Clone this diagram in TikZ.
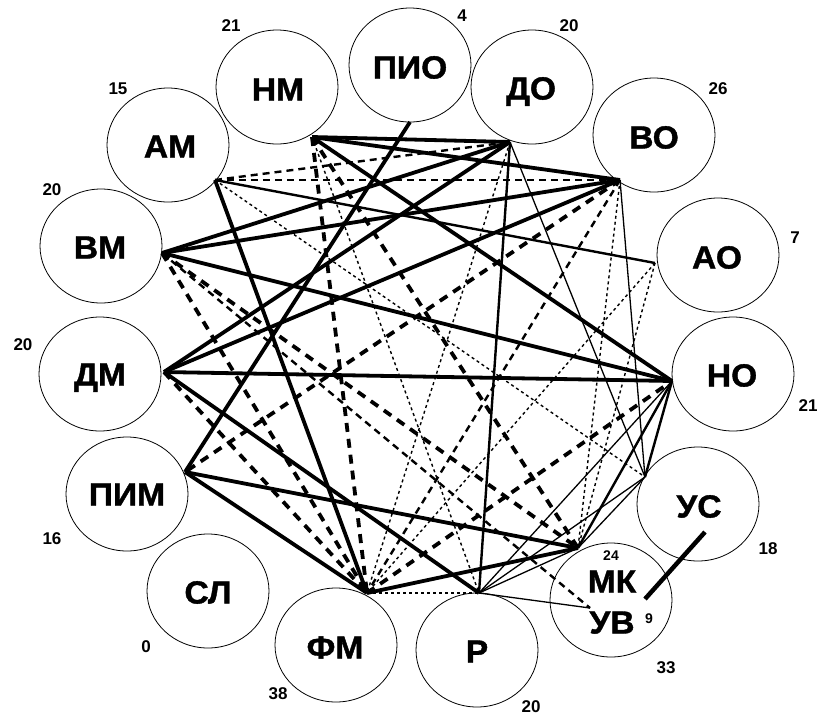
\documentclass[tikz,border=0pt]{standalone}
\usepackage{fontspec}
\setmainfont{Liberation Sans}
\newfontfamily\heavyfont{Liberation Sans}[BoldFeatures={FakeBold=1.2}]
\usepackage{graphicx}
\usetikzlibrary{shapes.geometric}
\newcommand{\lbl}[1]{\scalebox{1.05}[1]{\fontsize{32}{32}\heavyfont\bfseries #1}}
\newcommand{\nmb}[1]{{\fontsize{17}{17}\selectfont\bfseries #1}}
\newcommand{\nmbs}[1]{{\fontsize{14}{14}\selectfont\bfseries #1}}
\begin{document}
\begin{tikzpicture}[x=1pt,y=-1pt,
  circ/.style={draw, ellipse, line width=0.8pt, minimum width=122pt, minimum height=114pt, inner sep=0pt},
  lab/.style={inner sep=0pt, text height=23pt, text depth=0pt},
  numl/.style={inner sep=0pt, text height=12pt, text depth=0pt},
  thk/.style={line width=3.8pt},
  med/.style={line width=2.4pt},
  thn/.style={line width=1.3pt},
  tdash/.style={line width=3.8pt, dash pattern=on 9pt off 7pt},
  mdash/.style={line width=2.4pt, dash pattern=on 7pt off 5pt},
  dott/.style={line width=1.4pt, dash pattern=on 3pt off 3pt},
  barl/.style={line width=4.5pt}]
\useasboundingbox (0,0) rectangle (819,716);

% circles
\node[circ] (cNM) at (277,87) {};
\node[circ] (cAM) at (168,145) {};
\node[circ] (cVM) at (101,246) {};
\node[circ] (cDM) at (100,374) {};
\node[circ] (cPIM) at (127,494) {};
\node[circ] (cSL) at (208,591) {};
\node[circ] (cFM) at (336,645) {};
\node[circ] (cR) at (477,650) {};
\node[circ] (cMK) at (611,600) {};
\node[circ] (cUS) at (698,504) {};
\node[circ] (cNO) at (733,374) {};
\node[circ] (cAO) at (718,255) {};
\node[circ] (cVO) at (654,135) {};
\node[circ] (cDO) at (532,87) {};
\node[circ] (cPIO) at (410,65) {};

% labels
\node[lab] (tNM) at (278,89) {\lbl{НМ}};
\node[lab] (tAM) at (170,146) {\lbl{АМ}};
\node[lab] (tVM) at (100,247) {\lbl{ВМ}};
\node[lab] (tDM) at (100,374) {\lbl{ДМ}};
\node[lab] (tPIM) at (127,494) {\lbl{ПИМ}};
\node[lab] (tSL) at (208,592) {\lbl{СЛ}};
\node[lab] (tFM) at (335,647) {\lbl{ФМ}};
\node[lab] (tR) at (477,651) {\lbl{Р}};
\node[lab] (tMK) at (612,581) {\lbl{МК}};
\node[lab] (tUV) at (612,622) {\lbl{УВ}};
\node[lab] (tUS) at (699,506) {\lbl{УС}};
\node[lab] (tNO) at (732,375) {\lbl{НО}};
\node[lab] (tAO) at (717,257) {\lbl{АО}};
\node[lab] (tVO) at (654,137) {\lbl{ВО}};
\node[lab] (tDO) at (531,88) {\lbl{ДО}};
\node[lab] (tPIO) at (410,67) {\lbl{ПИО}};

% numbers
\node[numl] (nNM) at (231,25) {\nmb{21}};
\node[numl] (nAM) at (118,88) {\nmb{15}};
\node[numl] (nVM) at (52,189) {\nmb{20}};
\node[numl] (nDM) at (23,344) {\nmb{20}};
\node[numl] (nPIM) at (52,538) {\nmb{16}};
\node[numl] (nSL) at (146,646) {\nmb{0}};
\node[numl] (nFM) at (278,693) {\nmb{38}};
\node[numl] (nR) at (531,706) {\nmb{20}};
\node[numl] (nMK) at (611,554) {\nmbs{24}};
\node[numl, text height=10pt] (nUV) at (649,618) {\nmbs{9}};
\node[numl] (nMKUV) at (666,667) {\nmb{33}};
\node[numl] (nUS) at (768,548) {\nmb{18}};
\node[numl] (nNO) at (808,405) {\nmb{21}};
\node[numl] (nAO) at (795,237) {\nmb{7}};
\node[numl] (nVO) at (718,88) {\nmb{26}};
\node[numl] (nDO) at (569,25) {\nmb{20}};
\node[numl] (nPIO) at (462,15) {\nmb{4}};

% hubs
\coordinate (hNM) at (312,137);
\coordinate (hAM) at (215,180);
\coordinate (hVM) at (162,253);
\coordinate (hDM) at (164,372);
\coordinate (hPIM) at (185,472);
\coordinate (hFM) at (367,593);
\coordinate (hR) at (479,593);
\coordinate (hMK) at (578,548);
\coordinate (hUV) at (590,608);
\coordinate (hUS) at (645,477);
\coordinate (hNO) at (672,381);
\coordinate (hAO) at (655,263);
\coordinate (hVO) at (620,180);
\coordinate (hDO) at (510,142);
\coordinate (hPIO) at (410,122);
\coordinate (barA) at (705,532);
\coordinate (barB) at (645,599);

% dotted
\draw[dott] (hDO) -- (hFM);
\draw[dott] (hNM) -- (hR);
\draw[dott] (hAM) -- (hUS);
\draw[dott] (hFM) -- (hR);
\draw[dott] (hAO) -- (hFM);
\draw[dott] (hAO) -- (hMK);
\draw[dott] (hVO) -- (hMK);

% medium dashed
\draw[mdash] (hAM) -- (hVO);
\draw[mdash] (hAM) -- (hDO);
\draw[mdash] (hVO) -- (hFM);
\draw[mdash] (hVM) -- (hUV);

% thick dashed
\draw[tdash] (hNM) -- (hFM);
\draw[tdash] (hVM) -- (hFM);
\draw[tdash] (hDM) -- (hFM);
\draw[tdash] (hVO) -- (hPIM);
\draw[tdash] (hFM) -- (hNO);
\draw[tdash] (hNM) -- (hMK);
\draw[tdash] (hVM) -- (hMK);

% thin solid
\draw[thn] (hVO) -- (hUS);
\draw[thn] (hDO) -- (hUS);
\draw[thn] (hR) -- (hUV);
\draw[thn] (hR) -- (hMK);
\draw[thn] (hR) -- (hUS);
\draw[thn] (hR) -- (hNO);
\draw[thn] (hMK) -- (hUS);

% medium solid
\draw[med] (hDO) -- (hR);
\draw[med] (hAM) -- (hAO);
\draw[med] (hMK) -- (hNO);
\draw[med] (hUS) -- (hNO);

% thick solid
\draw[thk] (hNM) -- (hDO);
\draw[thk] (hNM) -- (hVO);
\draw[thk] (hNM) -- (hNO);
\draw[thk] (hVM) -- (hDO);
\draw[thk] (hVM) -- (hVO);
\draw[thk] (hVM) -- (hNO);
\draw[thk] (hDM) -- (hDO);
\draw[thk] (hDM) -- (hVO);
\draw[thk] (hDM) -- (hNO);
\draw[thk] (hDM) -- (hR);
\draw[thk] (hAM) -- (hFM);
\draw[thk] (hPIO) -- (hPIM);
\draw[thk] (hPIM) -- (hMK);
\draw[thk] (hPIM) -- (hFM);
\draw[thk] (hFM) -- (hMK);

\draw[barl] (barA) -- (barB);
\end{tikzpicture}
\end{document}
